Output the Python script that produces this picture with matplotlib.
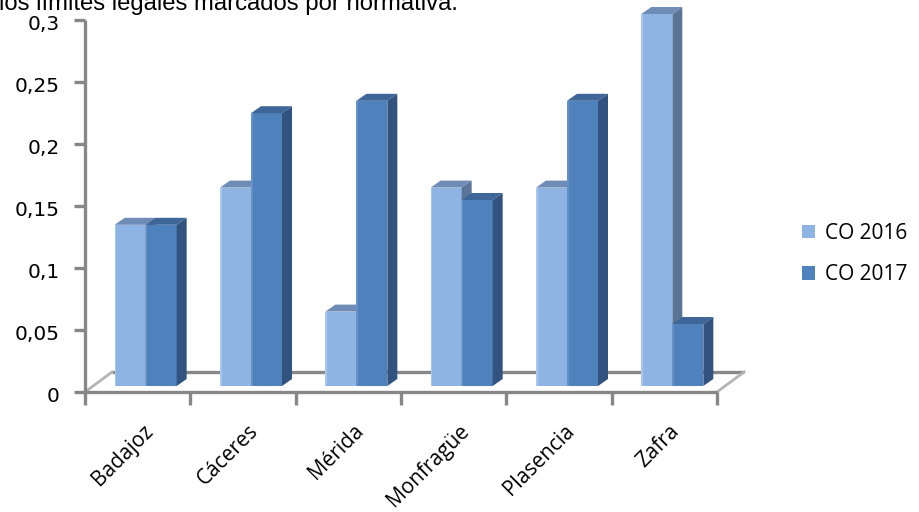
import matplotlib
matplotlib.use("Agg")
import matplotlib.pyplot as plt
from matplotlib.patches import Polygon
from matplotlib.transforms import offset_copy, ScaledTranslation
import numpy as np

# Data
categories = ["Badajoz", "Cáceres", "Mérida", "Monfragüe", "Plasencia", "Zafra"]
co_2016 = [0.13, 0.16, 0.06, 0.16, 0.16, 0.30]
co_2017 = [0.13, 0.22, 0.23, 0.15, 0.23, 0.05]
series_names = ["CO 2016", "CO 2017"]
yticks = [0, 0.05, 0.1, 0.15, 0.2, 0.25, 0.3]
ytick_labels = ["0", "0,05", "0,1", "0,15", "0,2", "0,25", "0,3"]
title_text = "los límites legales marcados por normativa."

W, H, DPI = 919, 512, 100
fig = plt.figure(figsize=(W / DPI, H / DPI), dpi=DPI)

# axes box in pixels: x 85..717, y 20..392 (from top)
ax_l, ax_r, ax_t, ax_b = 85, 717, 20, 392
ax = fig.add_axes([ax_l / W, (H - ax_b) / H, (ax_r - ax_l) / W, (ax_b - ax_t) / H])
ax.set_xlim(0, len(categories))
ax.set_ylim(0, 0.3)
ax.patch.set_alpha(0)
for s in ["top", "right"]:
    ax.spines[s].set_visible(False)
for s in ["left", "bottom"]:
    ax.spines[s].set_color("#878787")
    ax.spines[s].set_linewidth(2.4)
    ax.spines[s].set_capstyle("butt")

# floor of the 3D plot (pixel depth converted to data units)
px_x = len(categories) / (ax_r - ax_l)
px_y = 0.3 / (ax_b - ax_t)
floor_dx, floor_dy = 27 * px_x, 20 * px_y
n = len(categories)
ax.plot([floor_dx, n + floor_dx], [floor_dy, floor_dy], color="#878787", lw=2.4,
        solid_capstyle="butt", clip_on=False, zorder=1)
ax.plot([0, floor_dx], [0, floor_dy], color="#b4b4b4", lw=2.0, clip_on=False, zorder=1)
ax.plot([n, n + floor_dx], [0, floor_dy], color="#b4b4b4", lw=2.0, clip_on=False, zorder=1)

# 3D bars: front face drawn with ax.bar, top and side as polygons
bar_trans = offset_copy(ax.transData, fig=fig, x=8, y=6, units="dots")
w = 31 * px_x
ddx, ddy = 10 * px_x, 7 * px_y
x = np.arange(n) + 0.5
styles = [
    dict(front="#8eb4e3", top="#6f8cb6", side="#5b7599", hi="#a9c6ec"),
    dict(front="#4f81bd", top="#3e6698", side="#32537f", hi="#6690c6"),
]
handles = []
for k, (vals, st) in enumerate(zip([co_2016, co_2017], styles)):
    lefts = x - w + k * w
    bars = ax.bar(lefts, vals, width=w, align="edge", color=st["front"],
                  edgecolor="none", transform=bar_trans, zorder=3 + k,
                  label=series_names[k], clip_on=False)
    handles.append(bars)
    for x0, v in zip(lefts, vals):
        x1 = x0 + w
        top = Polygon([(x0, v), (x1, v), (x1 + ddx, v + ddy), (x0 + ddx, v + ddy)],
                      closed=True, facecolor=st["top"], edgecolor="none",
                      transform=bar_trans, zorder=3 + k, clip_on=False)
        side = Polygon([(x1, 0), (x1 + ddx, ddy), (x1 + ddx, v + ddy), (x1, v)],
                       closed=True, facecolor=st["side"], edgecolor="none",
                       transform=bar_trans, zorder=3 + k, clip_on=False)
        ax.add_patch(top)
        ax.add_patch(side)
        # thin highlight along the left edge of the front face
        ax.bar(x0, v, width=1.5 * px_x, align="edge", color=st["hi"],
               edgecolor="none", transform=bar_trans, zorder=3 + k, clip_on=False)

# y axis ticks
ax.set_yticks(yticks)
ax.set_yticklabels(ytick_labels, fontfamily="DejaVu Sans", fontsize=14.5, color="black")
ax.tick_params(axis="y", direction="out", length=8, width=2.4, color="#878787", pad=10)
shift_down = ScaledTranslation(0, -3 / DPI, fig.dpi_scale_trans)
for lbl in ax.get_yticklabels():
    lbl.set_transform(lbl.get_transform() + shift_down)

# x axis ticks at category boundaries, labels rotated
ax.set_xticks(np.arange(n + 1))
ax.set_xticklabels([])
ax.tick_params(axis="x", direction="out", length=9, width=2.4, color="#878787")
for xi, name in zip(x, categories):
    ax.annotate(name, xy=(xi, 0), xycoords="data", xytext=(12, -36),
                textcoords="offset pixels", rotation=45, rotation_mode="anchor",
                ha="right", va="center", fontfamily="Open Sans", fontsize=15,
                color="black", annotation_clip=False)

# legend
leg = fig.legend(handles=handles, labels=series_names, loc="center left",
                 bbox_to_anchor=(798 / W, 1 - 254 / H), frameon=False,
                 handlelength=0.6, handleheight=0.6, handletextpad=0.5,
                 labelspacing=1.0, borderaxespad=0, borderpad=0.2,
                 prop=dict(family="Open Sans", size=15))

# caption fragment at the top edge
fig.text(-1 / W, 1 - 10 / H, title_text, ha="left", va="baseline",
         fontfamily="Liberation Sans", fontsize=17.2, color="black")

fig.savefig("out.png", dpi=DPI)
